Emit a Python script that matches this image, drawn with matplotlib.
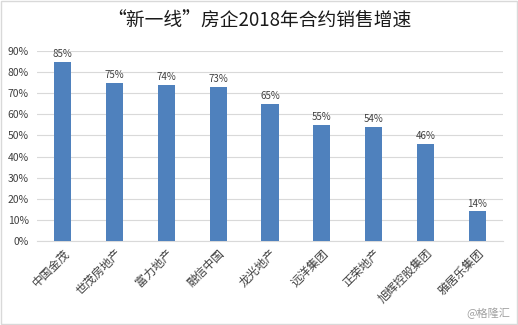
import matplotlib
matplotlib.use("Agg")
import matplotlib.pyplot as plt
from matplotlib.ticker import FuncFormatter

plt.rcParams['font.family'] = ['Noto Sans CJK SC', 'DejaVu Sans']

categories = ["中国金茂", "世茂房地产", "富力地产", "融信中国", "龙光地产", "远洋集团", "正荣地产", "旭辉控股集团", "雅居乐集团"]
values = [0.85, 0.75, 0.74, 0.73, 0.65, 0.55, 0.54, 0.46, 0.14]
yticks = [0, 0.1, 0.2, 0.3, 0.4, 0.5, 0.6, 0.7, 0.8, 0.9]

fig = plt.figure(figsize=(5.18, 3.25), dpi=100)
fig.patch.set_facecolor("white")
ax = fig.add_axes([0.0714, 0.2585, 0.8996, 0.5845])

x = range(len(categories))
bars = ax.bar(x, values, width=0.33, color="#4F81BD", zorder=3)
for xi, v in zip(x, values):
    ax.text(xi, v + 0.012, f"{round(v*100)}%", ha="center", va="bottom", fontsize=7, color="#404040")

ax.set_xlim(-0.5, len(categories) - 0.5)
ax.set_ylim(0, 0.9)
ax.set_yticks(yticks)
ax.yaxis.set_major_formatter(FuncFormatter(lambda v, p: f"{round(v*100)}%"))
ax.grid(axis="y", color="#D9D9D9", linewidth=0.8, zorder=0)
for s in ["top", "right", "left"]:
    ax.spines[s].set_visible(False)
ax.spines["bottom"].set_color("#D9D9D9")
ax.tick_params(axis="y", length=0, labelsize=7.5, labelcolor="#404040", pad=6)
ax.tick_params(axis="x", length=0, labelsize=8.5, labelcolor="#404040", pad=4)
ax.set_xticks(list(x))
ax.set_xticklabels(categories, rotation=45, ha="right", rotation_mode="anchor")

fig.text(0.5, 0.935, "“新一线”房企2018年合约销售增速", ha="center", va="center", fontsize=13.5, color="#1a1a1a")
fig.text(0.985, 0.035, "@格隆汇", ha="right", va="center", fontsize=8, color="#A0A0A0")

border = plt.Rectangle((0.002, 0.003), 0.996, 0.994, transform=fig.transFigure, fill=False, edgecolor="#D9D9D9", linewidth=1)
fig.add_artist(border)

fig.savefig("out.png", dpi=100)
